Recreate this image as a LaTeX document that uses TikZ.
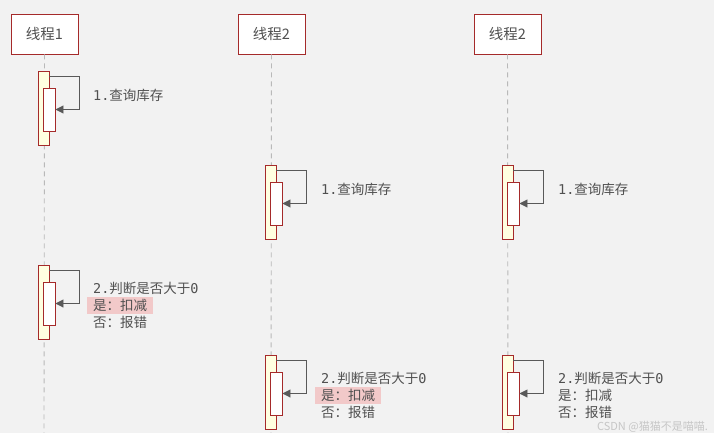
\documentclass[tikz,border=0pt]{standalone}
\usepackage{fontspec}
\setmainfont{Noto Sans CJK SC}
\newfontfamily\monof{DejaVu Sans Mono}
\usetikzlibrary{arrows.meta}
\definecolor{bgray}{HTML}{F2F2F2}
\definecolor{boxred}{HTML}{A52A2A}
\definecolor{txtgray}{HTML}{505050}
\definecolor{actyellow}{HTML}{FFFFE0}
\definecolor{hlpink}{HTML}{F2C9C9}
\tikzstyle{thread} = [rectangle, draw=boxred, line width=0.9pt, fill=white, minimum width=67pt, minimum height=40pt, text centered, text=txtgray, font=\fontsize{14.5}{16}\selectfont]
\tikzstyle{lifeline} = [draw=gray!55, line width=0.9pt, dash pattern=on 5pt off 4pt]
\tikzstyle{actouter} = [rectangle, draw=boxred, line width=0.9pt, fill=actyellow, minimum width=11pt, minimum height=74pt, inner sep=0pt]
\tikzstyle{actinner} = [rectangle, draw=boxred, line width=0.9pt, fill=white, minimum width=12pt, minimum height=43pt, inner sep=0pt]
\tikzstyle{msg} = [anchor=west, inner sep=0pt, text=txtgray, font=\fontsize{13.5}{15}\selectfont]
\tikzstyle{hl} = [anchor=west, inner xsep=6pt, inner ysep=0pt, minimum height=17pt, fill=hlpink, text=txtgray, font=\fontsize{13.5}{15}\selectfont]
\tikzstyle{arrow} = [draw=black!65, line width=0.9pt, -{Triangle[length=8pt,width=8pt]}]

\begin{document}
\begin{tikzpicture}[x=1pt, y=-1pt]
            \fill [bgray] (0,0) rectangle (714,433);
            \useasboundingbox (0,0) rectangle (714,433);
            % threads
            \node [thread] at (44.5,34) (thread1) {线程1};
            \node [thread] at (271.5,34) (thread2) {线程2};
            \node [thread] at (507.5,34) (thread3) {线程2};
            \coordinate (end1) at (44,433);
            \coordinate (end2) at (271,433);
            \coordinate (end3) at (508,433);
            \draw [lifeline] (thread1) -- (end1);
            \draw [lifeline] (thread2) -- (end2);
            \draw [lifeline] (thread3) -- (end3);

            % query stock
            \node [actouter] at (43.5,108) (outerA) {};
            \node [actinner] at (49,109.5) (innerA) {};
            \draw [arrow] ([yshift=-6pt]outerA.north east) -- ++(30,0) |- (innerA.east);
            \node [msg] at (93,95) (msgA) {{\monof 1.}查询库存};

            \node [actouter] at (270.5,202) (outerB) {};
            \node [actinner] at (276,203.5) (innerB) {};
            \draw [arrow] ([yshift=-6pt]outerB.north east) -- ++(30,0) |- (innerB.east);
            \node [msg] at (321,189) (msgB) {{\monof 1.}查询库存};

            \node [actouter] at (507.5,202) (outerC) {};
            \node [actinner] at (513,203.5) (innerC) {};
            \draw [arrow] ([yshift=-6pt]outerC.north east) -- ++(30,0) |- (innerC.east);
            \node [msg] at (558,189) (msgC) {{\monof 1.}查询库存};

            % check stock
            \node [actouter] at (43.5,302) (outerD) {};
            \node [actinner] at (49,303.5) (innerD) {};
            \draw [arrow] ([yshift=-6pt]outerD.north east) -- ++(30,0) |- (innerD.east);
            \node [msg] at (93,288) (msgD) {{\monof 2.}判断是否大于{\monof 0}};
            \node [hl] at (87,305.5) (yesD) {是：扣减};
            \node [msg] at (93,322) (noD) {否：报错};

            \node [actouter] at (270.5,392) (outerE) {};
            \node [actinner] at (276,393.5) (innerE) {};
            \draw [arrow] ([yshift=-6pt]outerE.north east) -- ++(30,0) |- (innerE.east);
            \node [msg] at (321,378) (msgE) {{\monof 2.}判断是否大于{\monof 0}};
            \node [hl] at (315,395.5) (yesE) {是：扣减};
            \node [msg] at (321,412) (noE) {否：报错};

            \node [actouter] at (507.5,392) (outerF) {};
            \node [actinner] at (513,393.5) (innerF) {};
            \draw [arrow] ([yshift=-6pt]outerF.north east) -- ++(30,0) |- (innerF.east);
            \node [msg] at (558,378) (msgF) {{\monof 2.}判断是否大于{\monof 0}};
            \node [msg] at (558,395) (yesF) {是：扣减};
            \node [msg] at (558,412) (noF) {否：报错};

            \node [anchor=east, inner sep=0pt, text=gray!45, font=\fontsize{11}{12}\selectfont] at (708,427) (mark) {CSDN @猫猫不是喵喵.};
\end{tikzpicture}
\end{document}
